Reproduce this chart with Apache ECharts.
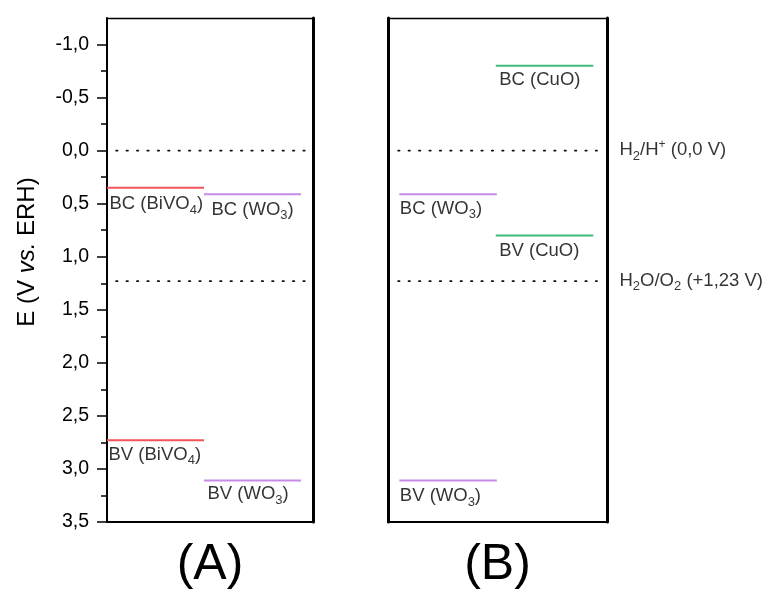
<!DOCTYPE html>
<html>
<head>
<meta charset="utf-8">
<script src="https://cdn.jsdelivr.net/npm/echarts@6/dist/echarts.min.js"></script>
<style>
html, body { margin: 0; padding: 0; background: #ffffff; }
#chart { width: 769px; height: 595px; }
</style>
</head>
<body>
<div id="chart"></div>
<script>
// Band-edge potentials, V vs. ERH
const materialsA = ['BiVO4', 'WO3'];
const bcA = [0.35, 0.41];      // conduction band (BC)
const bvA = [2.73, 3.11];      // valence band (BV)

const materialsB = ['WO3', 'CuO'];
const bcB = [0.41, -0.80];
const bvB = [3.11, 0.80];

// Reference redox potentials
const redoxLevels = [0.0, 1.23];
const redoxLabels = ['H{sub|2}/H{sup|+} (0,0 V)', 'H{sub|2}O/O{sub|2} (+1,23 V)'];

// Axis ticks
const majorTicks = [-1.0, -0.5, 0.0, 0.5, 1.0, 1.5, 2.0, 2.5, 3.0, 3.5];
const minorTicks = [-0.75, -0.25, 0.25, 0.75, 1.25, 1.75, 2.25, 2.75, 3.25];

// ---- presentation ----
const Y_MIN = -1.25, Y_MAX = 3.5;
const FONT = 'Liberation Sans, Arial, sans-serif';
const TEXT = '#000000';
const colors = { BiVO4: '#f2545a', WO3: '#c58be6', CuO: '#3dba78' };

// horizontal layout of each panel, in "slot" units (one slot per material)
const layoutA = { xMax: 2.124, starts: [0, 1.0], dots: [0.093, 2.04],
                  bcOff: [[3, 17], [8, 16]], bvOff: [[2, 15], [4, 14]] };
const layoutB = { xMax: 2.246, starts: [0.116, 1.105], dots: [0.103, 2.144],
                  bcOff: [[1, 15], [4, 15]], bvOff: [[1, 16], [4, 16]] };

// subscripts sit low via top padding, superscripts hug the line top
const richStyles = {
  n:   { fontFamily: FONT, fontSize: 18.5, lineHeight: 22, color: TEXT },
  sub: { fontFamily: FONT, fontSize: 13, verticalAlign: 'top', padding: [12, 0, 0, 0], color: TEXT },
  sup: { fontFamily: FONT, fontSize: 12, verticalAlign: 'top', padding: [1, 0, 0, 0], color: TEXT }
};

// "BiVO4" -> "BiVO{sub|4}"
function formula(name) {
  return name.replace(/([A-Za-z)]+)(\d+)/g, '$1{sub|$2}');
}
function richText(str) {
  return str.split(/(\{su[bp]\|[^}]+\})/).filter(p => p)
    .map(p => p.startsWith('{') ? p : '{n|' + p + '}').join('');
}
function levelText(kind, name) {
  return richText(kind + ' (' + formula(name) + ')');
}

const series = [];

function addPanel(gi, materials, bc, bv, layout) {
  const xi = gi * 2;          // bottom x axis of the panel
  const yi = gi === 0 ? 0 : 3;
  materials.forEach((m, k) => {
    const x0 = layout.starts[k], x1 = x0 + 1;
    [['BC', bc[k], layout.bcOff[k]], ['BV', bv[k], layout.bvOff[k]]].forEach(([kind, e, off]) => {
      series.push({
        type: 'line', xAxisIndex: xi, yAxisIndex: yi, silent: true,
        symbol: 'none', animation: false,
        lineStyle: { color: colors[m], width: 2 },
        data: [[x0, e], [x1, e]]
      });
      series.push({
        type: 'scatter', xAxisIndex: xi, yAxisIndex: yi, silent: true,
        symbolSize: 1, itemStyle: { color: 'rgba(0,0,0,0)' }, animation: false,
        label: {
          show: true, position: off, align: 'left', verticalAlign: 'middle',
          formatter: levelText(kind, m), rich: richStyles
        },
        data: [[x0, e]]
      });
    });
  });
  redoxLevels.forEach(e => {
    series.push({
      type: 'line', xAxisIndex: xi, yAxisIndex: yi, silent: true,
      symbol: 'none', animation: false,
      lineStyle: { color: '#111', width: 1.6, type: [1.6, 8.8], cap: 'round' },
      data: [[layout.dots[0], e], [layout.dots[1], e]]
    });
  });
}

addPanel(0, materialsA, bcA, bvA, layoutA);
addPanel(1, materialsB, bcB, bvB, layoutB);

// redox labels to the right of panel B
redoxLevels.forEach((e, i) => {
  series.push({
    type: 'scatter', xAxisIndex: 2, yAxisIndex: 3, silent: true,
    symbolSize: 1, itemStyle: { color: 'rgba(0,0,0,0)' }, animation: false,
    label: {
      show: true, position: [13, 0], align: 'left', verticalAlign: 'middle',
      formatter: richText(redoxLabels[i]), rich: richStyles
    },
    data: [[layoutB.xMax, e]]
  });
});

function xAxisDef(gi, pos, width, xMax, name) {
  return {
    type: 'value', gridIndex: gi, position: pos, min: 0, max: xMax,
    axisLine: { show: true, onZero: false, lineStyle: { color: '#000', width: width } },
    axisTick: { show: false }, axisLabel: { show: false }, splitLine: { show: false },
    name: name || '', nameLocation: 'middle', nameGap: 18,
    nameTextStyle: { fontFamily: FONT, fontSize: 50, color: '#000' }
  };
}
function yFrame(gi, pos, width) {
  return {
    type: 'value', gridIndex: gi, position: pos, inverse: true, min: Y_MIN, max: Y_MAX,
    axisLine: { show: true, onZero: false, lineStyle: { color: '#000', width: width } },
    axisTick: { show: false }, axisLabel: { show: false }, splitLine: { show: false }
  };
}

const option = {
  backgroundColor: '#ffffff',
  animation: false,
  grid: [
    { left: 107, top: 18, width: 206, height: 506 },
    { left: 388, top: 18, width: 219, height: 506 }
  ],
  xAxis: [
    xAxisDef(0, 'bottom', 2, layoutA.xMax, '(A)'),
    xAxisDef(0, 'top', 1.3, layoutA.xMax),
    xAxisDef(1, 'bottom', 2, layoutB.xMax, '(B)'),
    xAxisDef(1, 'top', 1.3, layoutB.xMax)
  ],
  yAxis: [
    {
      type: 'value', gridIndex: 0, position: 'left', inverse: true, min: Y_MIN, max: Y_MAX,
      axisLine: { show: true, onZero: false, lineStyle: { color: '#000', width: 2 } },
      axisTick: { show: true, customValues: majorTicks, length: 10, lineStyle: { color: '#000', width: 1.5 } },
      axisLabel: {
        show: true, customValues: majorTicks, margin: 18,
        fontFamily: FONT, fontSize: 19.5, color: TEXT,
        formatter: v => Number(v).toFixed(1).replace('.', ',')
      },
      splitLine: { show: false },
      name: 'E (V {i|vs.} ERH)', nameLocation: 'middle', nameRotate: 90, nameGap: 68,
      nameTextStyle: {
        fontFamily: FONT, fontSize: 24, color: TEXT, padding: [0, 0, 0, 36],
        rich: { i: { fontFamily: FONT, fontSize: 24, fontStyle: 'italic', color: TEXT } }
      }
    },
    {
      type: 'value', gridIndex: 0, position: 'left', inverse: true, min: Y_MIN, max: Y_MAX,
      axisLine: { show: false },
      axisTick: { show: true, customValues: minorTicks, length: 6, lineStyle: { color: '#000', width: 1.5 } },
      axisLabel: { show: false }, splitLine: { show: false }
    },
    yFrame(0, 'right', 3),
    yFrame(1, 'left', 3),
    yFrame(1, 'right', 3)
  ],
  series: series
};

const chart = echarts.init(document.getElementById('chart'), null, { renderer: 'canvas' });
chart.setOption(option);
</script>
</body>
</html>
